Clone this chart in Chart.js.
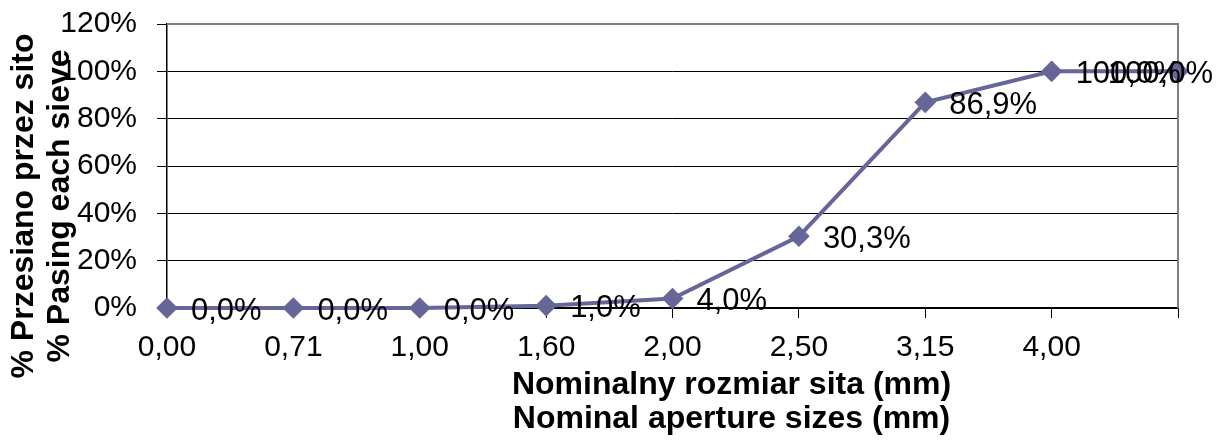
<!DOCTYPE html>
<html>
<head>
<meta charset="utf-8">
<script src="https://cdn.jsdelivr.net/npm/chart.js@4.4.1/dist/chart.umd.min.js"></script>
<style>
  html, body { margin: 0; padding: 0; background: #fff; }
  #wrap { width: 1224px; height: 442px; position: relative; }
</style>
</head>
<body>
<div id="wrap"><canvas id="chart"></canvas></div>
<script>
const SIEVES = ['0,00', '0,71', '1,00', '1,60', '2,00', '2,50', '3,15', '4,00', '']
const PASSING = [0, 0, 0, 1.0, 4.0, 30.3, 86.9, 100, 100]
const Y_TICKS = [0, 20, 40, 60, 80, 100, 120]

const X_TITLE = ['Nominalny rozmiar sita (mm)', 'Nominal aperture sizes (mm)']
const Y_TITLE = ['% Przesiano przez sito', '% Pasing each sieve']

const FONT = 'Liberation Sans, Arial, sans-serif'
const LINE_COLOR = '#666699'

const fmt = (v) => v.toFixed(1).replace('.', ',') + '%'

const pointLabels = {
  id: 'pointLabels',
  afterDatasetsDraw(chart) {
    const { ctx } = chart
    const meta = chart.getDatasetMeta(0)
    ctx.save()
    ctx.font = '31px ' + FONT
    ctx.fillStyle = '#000'
    ctx.textBaseline = 'middle'
    meta.data.forEach((pt, i) => {
      const text = fmt(PASSING[i])
      const w = ctx.measureText(text).width
      let x = pt.x + 24
      x = Math.min(x, chart.width - 11 - w)
      ctx.fillText(text, x, pt.y + 3)
    })
    ctx.restore()
  },
}

const axisTitles = {
  id: 'axisTitles',
  afterDraw(chart) {
    const { ctx, chartArea } = chart
    ctx.save()
    ctx.font = 'bold 32px ' + FONT
    ctx.fillStyle = '#000'
    ctx.textAlign = 'center'
    ctx.textBaseline = 'middle'
    const cx = chartArea.left + (chartArea.right - chartArea.left) / 2 + 59
    ctx.fillText(X_TITLE[0], cx, chartArea.bottom + 77)
    ctx.fillText(X_TITLE[1], cx, chartArea.bottom + 111)

    const cy = 206
    ctx.translate(0, cy)
    ctx.rotate(-Math.PI / 2)
    ctx.fillText(Y_TITLE[0], 0, 24)
    ctx.fillText(Y_TITLE[1], 0, 60)
    ctx.restore()
  },
}

const plotBorder = {
  id: 'plotBorder',
  beforeDatasetsDraw(chart) {
    const { ctx, chartArea } = chart
    ctx.save()
    ctx.strokeStyle = '#808080'
    ctx.lineWidth = 2
    ctx.beginPath()
    ctx.moveTo(chartArea.left, chartArea.top)
    ctx.lineTo(chartArea.right, chartArea.top)
    ctx.lineTo(chartArea.right, chartArea.bottom)
    ctx.stroke()
    ctx.restore()
  },
}

new Chart(document.getElementById('chart'), {
  type: 'line',
  data: {
    labels: SIEVES,
    datasets: [
      {
        data: PASSING,
        borderColor: LINE_COLOR,
        backgroundColor: LINE_COLOR,
        borderWidth: 4,
        pointStyle: 'rectRot',
        pointRadius: 8,
        pointHoverRadius: 8,
        tension: 0,
        clip: false,
      },
    ],
  },
  options: {
    responsive: true,
    maintainAspectRatio: false,
    animation: false,
    events: [],
    layout: { padding: { top: 24, right: 46, left: 0, bottom: 0 } },
    plugins: {
      legend: { display: false },
      tooltip: { enabled: false },
    },
    scales: {
      x: {
        offset: false,
        grid: {
          drawOnChartArea: false,
          drawTicks: true,
          tickLength: 10,
          color: '#000',
          lineWidth: 1,
        },
        border: { color: '#000', width: 1.5 },
        ticks: {
          color: '#000',
          font: { family: FONT, size: 30 },
          padding: 12,
          maxRotation: 0,
          autoSkip: false,
        },
        afterFit(scale) {
          scale.height = 134
          scale.paddingLeft = 0
          scale.paddingRight = 0
        },
      },
      y: {
        min: 0,
        max: 120,
        afterBuildTicks(scale) {
          scale.ticks = Y_TICKS.map((v) => ({ value: v }))
        },
        grid: {
          color: '#000',
          lineWidth: 1,
          tickLength: 10,
        },
        border: { color: '#000', width: 1.5 },
        ticks: {
          color: '#000',
          font: { family: FONT, size: 30 },
          padding: 20,
          callback: (v) => v + '%',
        },
        afterFit(scale) {
          scale.width = 167
          scale.paddingTop = 0
          scale.paddingBottom = 0
        },
      },
    },
  },
  plugins: [plotBorder, pointLabels, axisTitles],
})
</script>
</body>
</html>
